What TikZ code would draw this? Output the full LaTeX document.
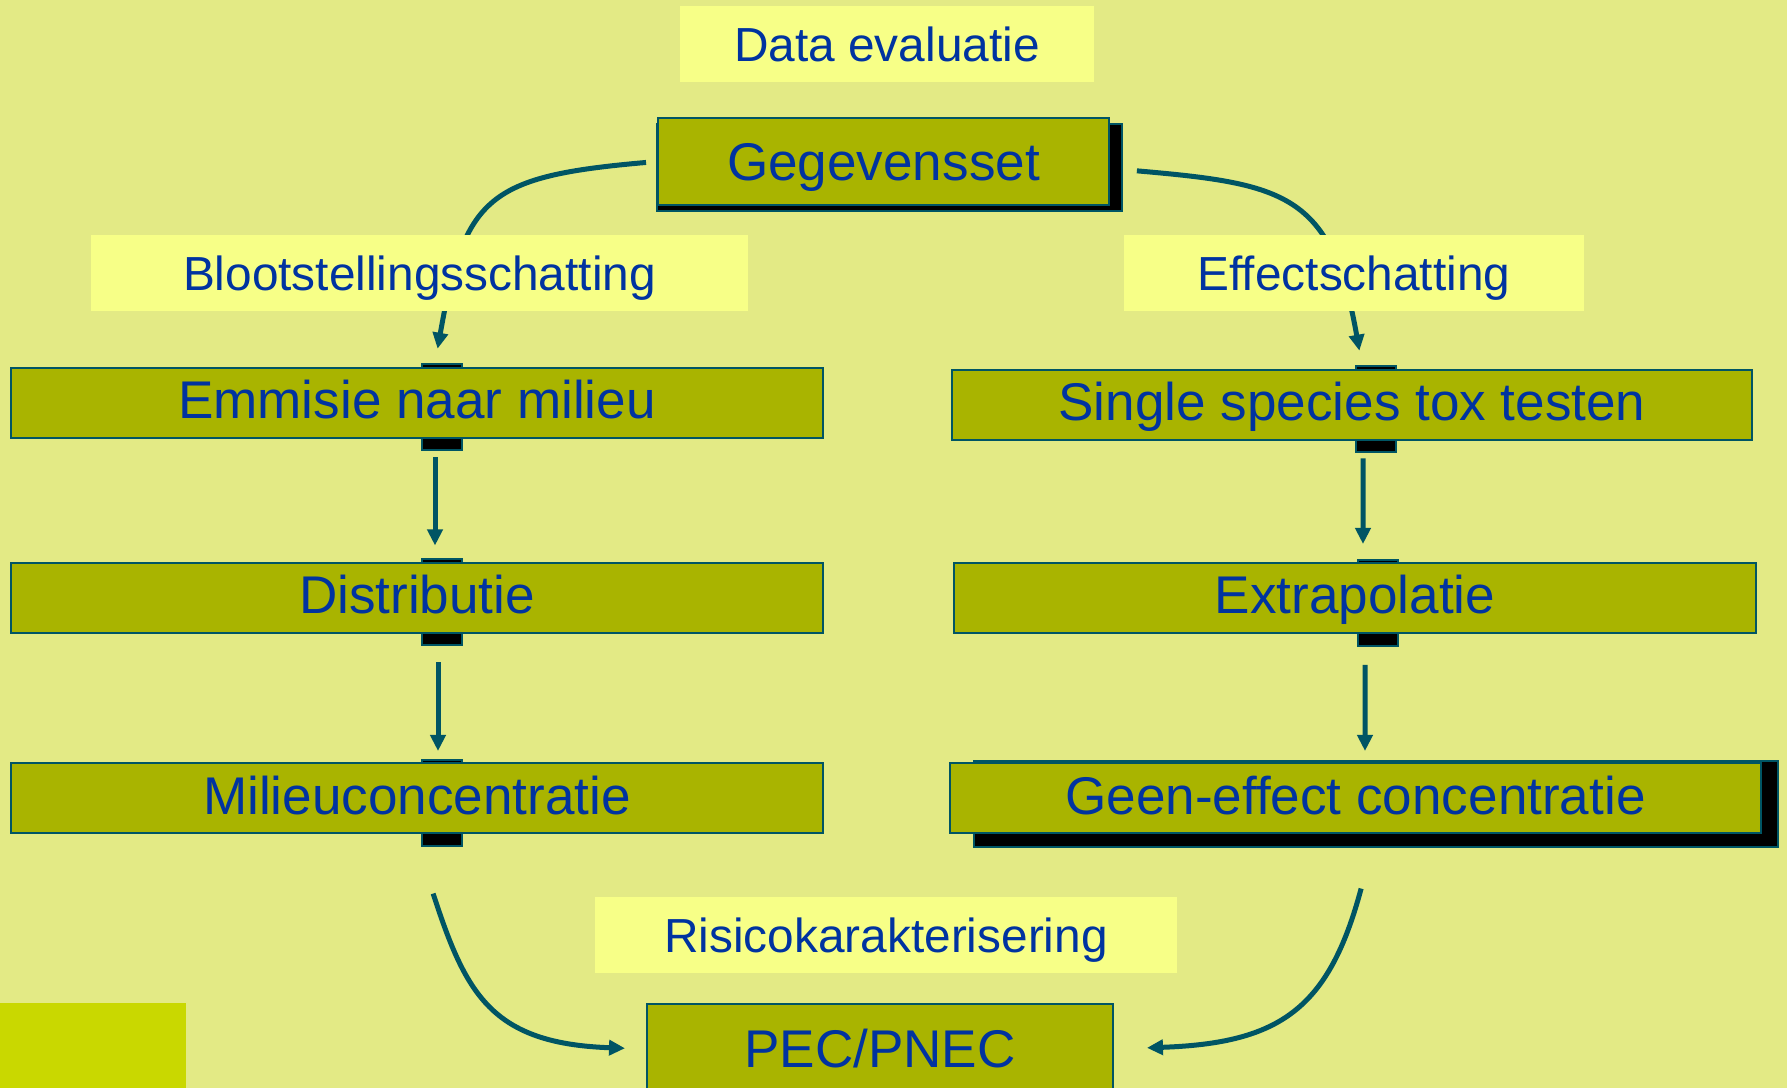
\documentclass[tikz,border=0pt]{standalone}
\usepackage{fontspec}
\setmainfont{Liberation Sans}
\usetikzlibrary{arrows.meta}

\definecolor{achtergrond}{RGB}{227,234,133}
\definecolor{hoekgroen}{RGB}{201,216,0}
\definecolor{kopgeel}{RGB}{247,255,135}
\definecolor{vakgroen}{RGB}{169,180,0}
\definecolor{tekstblauw}{RGB}{0,51,160}
\definecolor{lijnteal}{RGB}{0,85,100}

\begin{document}
\begin{tikzpicture}[x=0.1mm,y=-0.1mm,
  vak/.style={draw=lijnteal, fill=vakgroen, line width=0.2mm, inner sep=0pt,
    minimum height=7mm, text height=10.9pt, text depth=2pt,
    text=tekstblauw, font=\fontsize{15.1}{18}\selectfont},
  kop/.style={fill=kopgeel, inner sep=0pt, minimum height=7.6mm,
    text height=9.8pt, text depth=-0.4pt,
    text=tekstblauw, font=\fontsize{13.6}{16}\selectfont},
  schaduw/.style={draw=lijnteal, fill=black, line width=0.2mm, inner sep=0pt},
  tab/.style={schaduw, minimum width=4mm, minimum height=8.6mm},
  pijl/.style={draw=lijnteal, line width=0.5mm, -{Triangle[length=1.6mm,width=1.5mm]}}
]
\clip (0,0) rectangle (1787,1088);
\fill[achtergrond] (0,0) rectangle (1787,1088);
\fill[hoekgroen] (0,1003) rectangle (186,1088); % corner block

% shadows and tabs behind the boxes
\node[schaduw, minimum width=46.5mm, minimum height=8.7mm] (gegschaduw) at (889.5,167.5) {};
\node[schaduw, minimum width=80.4mm, minimum height=8.6mm] (geenschaduw) at (1376,804) {};
\node[tab] (tabE) at (442,407.5) {};
\node[tab] (tabD) at (442,602.5) {};
\node[tab] (tabM) at (442,803) {};
\node[tab] (tabS) at (1376,409.5) {};
\node[tab] (tabX) at (1378,603) {};

% boxes
\node[vak, minimum width=45.1mm, minimum height=8.7mm, text depth=0.3pt] (geg) at (883.5,161.5) {Gegevensset};
\node[vak, minimum width=81.2mm] (emm) at (417,403) {Emmisie naar milieu};
\node[vak, minimum width=81.2mm] (dist) at (417,598) {Distributie};
\node[vak, minimum width=81.2mm] (mil) at (417,798.5) {Milieuconcentratie};
\node[vak, minimum width=80mm] (single) at (1352,405) {Single species tox testen};
\node[vak, minimum width=80.2mm] (extra) at (1355,598) {Extrapolatie};
\node[vak, minimum width=81.1mm] (geen) at (1355.5,798.5) {Geen-effect concentratie};
\node[vak, minimum width=46.6mm, minimum height=9mm, text depth=0.3pt] (pec) at (880,1049) {PEC/PNEC};

% connectors
\draw[pijl, shorten <=1.1mm, shorten >=1.5mm] (geg.west) to[out=185, in=80, looseness=1.45] ([xshift=-0.7mm]tabE.north);
\draw[pijl, shorten <=2.7mm, shorten >=1.5mm] ([yshift=-0.7mm]geg.east) to[out=-5, in=100, looseness=1.4] ([xshift=-1.4mm]tabS.north);
\draw[pijl, shorten <=0.6mm, shorten >=1.3mm] ([xshift=-0.7mm]tabE.south) -- ([xshift=-0.7mm]tabD.north);
\draw[pijl, shorten <=1.6mm, shorten >=0.8mm] ([xshift=-0.4mm]tabD.south) -- ([xshift=-0.4mm]tabM.north);
\draw[pijl, shorten <=0.5mm, shorten >=1.5mm] ([xshift=-1.3mm]tabS.south) -- ([xshift=-1.5mm]tabX.north);
\draw[pijl, shorten <=1.8mm, shorten >=0.9mm] ([xshift=-1.3mm]tabX.south) -- ([xshift=-1.1mm]geenschaduw.north);
\draw[pijl, shorten <=4.9mm, shorten >=2.1mm] ([xshift=-2.4mm]tabM.south) to[out=-72, in=178, looseness=1.3] (pec.west);
\draw[pijl, shorten <=4.2mm, shorten >=3.3mm] ([xshift=-0.4mm]geenschaduw.south) to[out=-105, in=2, looseness=1.3] (pec.east);

% headings over the connectors
\node[kop, minimum width=41.4mm] (dataeval) at (887,44) {Data evaluatie};
\node[kop, minimum width=65.7mm] (bloot) at (419.5,273.5) {Blootstellingsschatting};
\node[kop, minimum width=46mm] (effect) at (1354,273) {Effectschatting};
\node[kop, minimum width=58.2mm] (risico) at (886,935) {Risicokarakterisering};
\end{tikzpicture}
\end{document}
